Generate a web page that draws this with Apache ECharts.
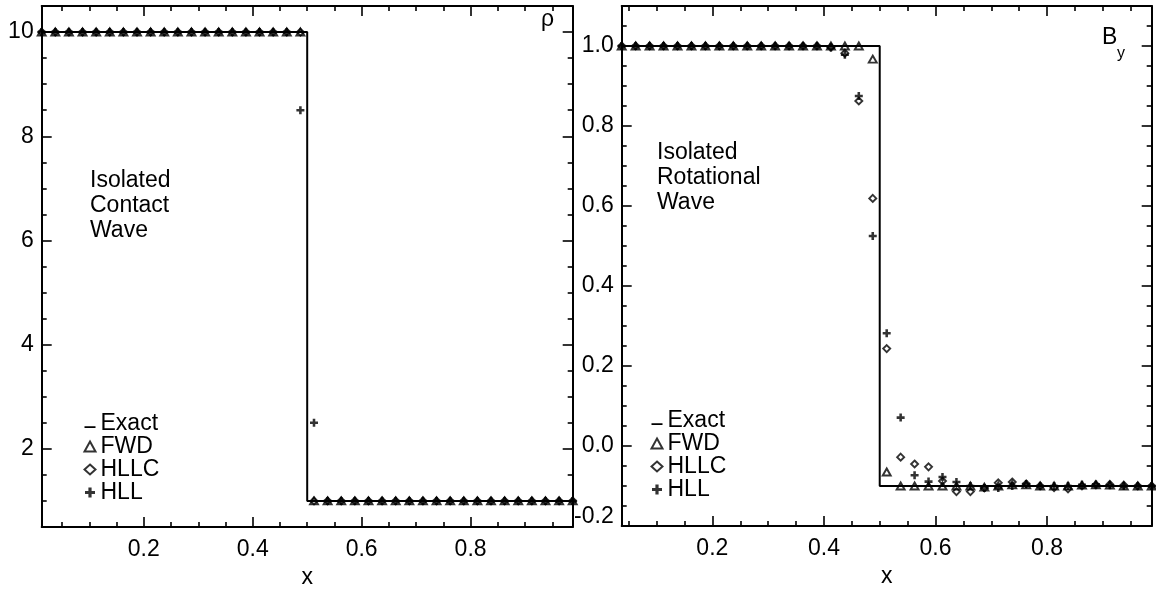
<!DOCTYPE html>
<html>
<head>
<meta charset="utf-8">
<script src="https://cdn.jsdelivr.net/npm/echarts@6/dist/echarts.min.js"></script>
<style>
html,body{margin:0;padding:0;background:#fff;}
#chart{width:1156px;height:593px;}
</style>
</head>
<body>
<div id="chart"></div>
<script>
// ---------- data ----------
const xLeft = [0.0125,0.0375,0.0625,0.0875,0.1125,0.1375,0.1625,0.1875,0.2125,0.2375,
  0.2625,0.2875,0.3125,0.3375,0.3625,0.3875,0.4125,0.4375,0.4625,0.4875,
  0.5125,0.5375,0.5625,0.5875,0.6125,0.6375,0.6625,0.6875,0.7125,0.7375,
  0.7625,0.7875,0.8125,0.8375,0.8625,0.8875,0.9125,0.9375,0.9625,0.9875];
const rhoFWD = [10,10,10,10,10,10,10,10,10,10,10,10,10,10,10,10,10,10,10,10,
  1,1,1,1,1,1,1,1,1,1,1,1,1,1,1,1,1,1,1,1];
const rhoHLLC = [10,10,10,10,10,10,10,10,10,10,10,10,10,10,10,10,10,10,10,10,
  1,1,1,1,1,1,1,1,1,1,1,1,1,1,1,1,1,1,1,1];
const rhoHLL = [10,10,10,10,10,10,10,10,10,10,10,10,10,10,10,10,10,10,10,8.5,
  2.5,1,1,1,1,1,1,1,1,1,1,1,1,1,1,1,1,1,1,1];
const exactRhoX = [0.0125,0.5,0.5,0.9875];
const exactRhoY = [10,10,1,1];

const xRight = [0.0375,0.0625,0.0875,0.1125,0.1375,0.1625,0.1875,0.2125,0.2375,
  0.2625,0.2875,0.3125,0.3375,0.3625,0.3875,0.4125,0.4375,0.4625,0.4875,
  0.5125,0.5375,0.5625,0.5875,0.6125,0.6375,0.6625,0.6875,0.7125,0.7375,
  0.7625,0.7875,0.8125,0.8375,0.8625,0.8875,0.9125,0.9375,0.9625,0.9875];
const byFWD = [1,1,1,1,1,1,1,1,1,1,1,1,1,1,1,1,1,1,0.967,-0.065,
  -0.1,-0.1,-0.1,-0.1,-0.1,-0.1,-0.103,-0.1,-0.097,-0.097,-0.1,-0.1,-0.1,-0.098,-0.097,-0.098,-0.1,-0.1,-0.1];
const byHLLC = [1,1,1,1,1,1,1,1,1,1,1,1,1,1,1,0.997,0.982,0.8625,0.619,0.2435,
  -0.028,-0.045,-0.052,-0.0875,-0.114,-0.114,-0.105,-0.092,-0.09,-0.095,-0.1,-0.104,-0.107,-0.1,-0.097,-0.096,-0.098,-0.1,-0.1];
const byHLL = [1,1,1,1,1,1,1,1,1,1,1,1,1,1,1,0.996,0.978,0.875,0.525,0.282,
  0.071,-0.073,-0.089,-0.0775,-0.09,-0.1,-0.105,-0.105,-0.1,-0.095,-0.1,-0.1,-0.1,-0.097,-0.096,-0.098,-0.1,-0.1,-0.1];
const exactByX = [0.0375,0.5,0.5,0.9875];
const exactByY = [1,1,-0.1,-0.1];

// tick values
const xMajor = [0.2,0.4,0.6,0.8];
const xMinor = [0.05,0.1,0.15,0.25,0.3,0.35,0.45,0.5,0.55,0.65,0.7,0.75,0.85,0.9,0.95];
const rhoMajor = [2,4,6,8,10];
const rhoMinor = [1,1.5,2.5,3,3.5,4.5,5,5.5,6.5,7,7.5,8.5,9,9.5];
const byMajor = [-0.2,0.0,0.2,0.4,0.6,0.8,1.0];
const byMinor = [-0.15,-0.1,-0.05,0.05,0.1,0.15,0.25,0.3,0.35,0.45,0.5,0.55,0.65,0.7,0.75,0.85,0.9,0.95,1.05];
const seriesNames = ['Exact','FWD','HLLC','HLL'];

// ---------- helpers ----------
const FONT = "'Liberation Sans', Arial, Helvetica, sans-serif";
const FS = 23;
const BLACK = '#000';

function makeAxes(dim, gridIndex, min, max, major, minor, labelFmt, name) {
  const sides = dim === 'x' ? ['bottom','top'] : ['left','right'];
  const out = [];
  sides.forEach((pos, si) => {
    [true,false].forEach(isMajor => {
      const ax = {
        type: 'value', gridIndex, min, max, position: pos,
        splitLine: {show:false},
        axisLine: {show: isMajor, onZero:false, lineStyle:{color:BLACK, width:2}},
        axisTick: {show:true, inside:true, length: isMajor ? 10 : 5,
          customValues: isMajor ? major : minor,
          lineStyle:{color:BLACK, width:1.6}},
        axisLabel: {show:false},
        axisPointer: {show:false}
      };
      if (si === 0 && isMajor) {
        ax.axisLabel = {
          show:true, customValues: major, formatter: labelFmt,
          color: BLACK, fontFamily: FONT, fontSize: FS,
          margin: dim === 'x' ? 11 : 8,
          rich: {lo: {fontFamily: FONT, fontSize: FS, color: BLACK, padding:[0,0,18,0]}}
        };
        if (name) {
          ax.name = name; ax.nameLocation = 'middle'; ax.nameGap = 37;
          ax.nameTextStyle = {color:BLACK, fontFamily:FONT, fontSize:FS};
        }
      }
      out.push(ax);
    });
  });
  return out;
}

const fmtX = v => v.toFixed(1);
const fmtRho = v => String(Math.round(v));
const fmtBy = v => (Math.abs(v + 0.2) < 1e-9 ? '{lo|-0.2}' : v.toFixed(1));

const xAxes = [
  ...makeAxes('x', 0, 0.0125, 0.9875, xMajor, xMinor, fmtX, 'x'),
  ...makeAxes('x', 1, 0.0375, 0.9875, xMajor, xMinor, fmtX, 'x')
];
const yAxes = [
  ...makeAxes('y', 0, 0.5, 10.5, rhoMajor, rhoMinor, fmtRho, null),
  ...makeAxes('y', 1, -0.2, 1.1, byMajor, byMinor, fmtBy, null)
];

const PLUS = 'path://M3.4,0H6.6V3.4H10V6.6H6.6V10H3.4V6.6H0V3.4H3.4Z';
const DASH = 'path://M0,0H0.01V0.01H0Z M0,6.6H10V8.4H0Z';

function zipXY(xs, ys) { return xs.map((x, i) => [x, ys[i]]); }

function panelSeries(p, xs, fwd, hllc, hll, ex, ey) {
  const xi = p * 4, yi = p * 4;
  const mk = (name, sym, size, data) => ({
    name, type:'scatter', xAxisIndex: xi, yAxisIndex: yi, data,
    symbol: sym, symbolSize: size, silent:true,
    itemStyle: sym === PLUS ? {color:BLACK} : {color:'rgba(0,0,0,0)', borderColor:BLACK, borderWidth:1.9},
    z: 3
  });
  return [
    {name:'Exact', type:'line', xAxisIndex: xi, yAxisIndex: yi, data: zipXY(ex, ey),
     showSymbol:false, symbol:'none', color:BLACK, lineStyle:{color:BLACK, width:2}, silent:true, z:2, animation:false},
    mk('FWD','triangle',[8,7], zipXY(xs, fwd)),
    mk('HLLC','diamond',[7,7], zipXY(xs, hllc)),
    mk('HLL', PLUS, [8,8], zipXY(xs, hll))
  ];
}

const series = [
  ...panelSeries(0, xLeft, rhoFWD, rhoHLLC, rhoHLL, exactRhoX, exactRhoY),
  ...panelSeries(1, xRight, byFWD, byHLLC, byHLL, exactByX, exactByY)
];

function legendAt(left, top, lh) {
  return {
    show:true, orient:'vertical', left, top, itemGap:0,
    itemWidth:11, itemHeight:10, padding:0, selectedMode:false,
    textStyle:{color:BLACK, fontFamily:FONT, fontSize:FS, lineHeight:lh},
    data:[
      {name:'Exact', icon: DASH, itemStyle:{color:BLACK}},
      {name:'FWD', icon:'triangle', itemStyle:{color:'rgba(0,0,0,0)', borderColor:BLACK, borderWidth:2}},
      {name:'HLLC', icon:'diamond', itemStyle:{color:'rgba(0,0,0,0)', borderColor:BLACK, borderWidth:2}},
      {name:'HLL', icon: PLUS, itemStyle:{color:BLACK, borderWidth:0}}
    ]
  };
}

const option = {
  animation:false,
  backgroundColor:'#fff',
  textStyle:{fontFamily:FONT},
  grid:[
    {left:41.7, top:6, width:531, height:521, outerBoundsMode:'none', containLabel:false},
    {left:621.7, top:6, width:530, height:520, outerBoundsMode:'none', containLabel:false}
  ],
  xAxis: xAxes,
  yAxis: yAxes,
  legend: [legendAt(83.5, 412, 21.5), legendAt(650.5, 409, 23)],
  series,
  graphic: [
    {type:'text', left:90, top:168, silent:true,
     style:{text:'Isolated\nContact\nWave', font: FS + 'px ' + FONT, lineHeight:25, fill:BLACK}},
    {type:'text', left:657, top:140, silent:true,
     style:{text:'Isolated\nRotational\nWave', font: FS + 'px ' + FONT, lineHeight:25, fill:BLACK}},
    {type:'text', left:541, top:8, silent:true,
     style:{text:'ρ', font: FS + 'px ' + FONT, fill:BLACK}},
    {type:'text', left:1102, top:26, silent:true,
     style:{text:'B', font: FS + 'px ' + FONT, fill:BLACK}},
    {type:'text', left:1117, top:46, silent:true,
     style:{text:'y', font: '16px ' + FONT, fill:BLACK}}
  ]
};

const chart = echarts.init(document.getElementById('chart'), null, {renderer:'canvas'});
chart.setOption(option);
</script>
</body>
</html>
